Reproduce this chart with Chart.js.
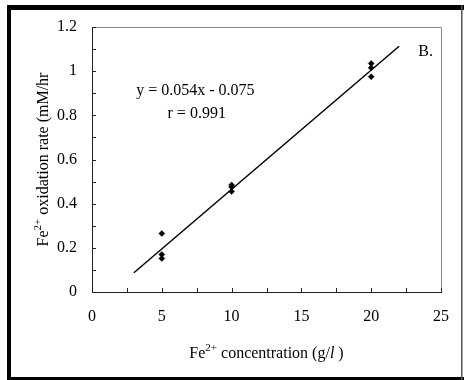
<!DOCTYPE html>
<html>
<head>
<meta charset="utf-8">
<script src="https://cdn.jsdelivr.net/npm/chart.js@4/dist/chart.umd.min.js"></script>
<style>
  html, body { margin: 0; padding: 0; background: #fff; }
  #wrap { width: 464px; height: 380px; position: relative; }
</style>
</head>
<body>
<div id="wrap"><canvas id="chart"></canvas></div>
<script>
    const concX = [5, 5, 5, 10, 10, 10, 20, 20, 20];
    const rateY = [0.265, 0.17, 0.152, 0.485, 0.475, 0.455, 1.035, 1.015, 0.975];

    // Regression line end points: y = 0.054x - 0.075
    const fitX = [3, 22];
    const fitY = [0.087, 1.113];

    // Tick positions (inward tick marks)
    const xTickMarks = [0, 2.5, 5, 7.5, 10, 12.5, 15, 17.5, 20, 22.5, 25];
    const yTickMarks = [0, 0.1, 0.2, 0.3, 0.4, 0.5, 0.6, 0.7, 0.8, 0.9, 1, 1.1, 1.2];

    const fitLabel = 'y = 0.054x - 0.075';
    const rLabel = 'r = 0.991';
    const panelLabel = 'B.';

    const FONT = '"Liberation Serif", "Times New Roman", serif';

    // draw a run of text pieces (with superscripts / italics) centred on (cx, cy)
    function drawRich(ctx, parts, cx, cy, rotate) {
        ctx.save();
        ctx.translate(cx, cy);
        if (rotate) ctx.rotate(-Math.PI / 2);
        let total = 0;
        parts.forEach(p => {
            ctx.font = (p.italic ? 'italic ' : '') + (p.sup ? '11px ' : '16px ') + FONT;
            p.w = ctx.measureText(p.t).width;
            total += p.w;
        });
        let x = -total / 2;
        ctx.fillStyle = '#000';
        ctx.textBaseline = 'alphabetic';
        ctx.textAlign = 'left';
        parts.forEach(p => {
            ctx.font = (p.italic ? 'italic ' : '') + (p.sup ? '11px ' : '16px ') + FONT;
            ctx.fillText(p.t, x, p.sup ? -1 : 5.5);
            x += p.w;
        });
        ctx.restore();
    }

    const decorPlugin = {
        id: 'decor',
        beforeDraw(chart) {
            const ctx = chart.ctx;
            ctx.save();
            ctx.fillStyle = '#fff';
            ctx.fillRect(0, 0, chart.width, chart.height);
            ctx.restore();
        },
        afterDraw(chart) {
            const ctx = chart.ctx;
            const a = chart.chartArea;
            const xs = chart.scales.x;
            const ys = chart.scales.y;
            ctx.save();

            // outer frame
            ctx.fillStyle = '#000';
            ctx.fillRect(7, 5, 457, 5);
            ctx.fillRect(7, 5, 4, 375);
            ctx.fillRect(7, 377, 457, 3);
            ctx.fillStyle = '#555';
            ctx.fillRect(461, 5, 1.5, 375);

            // plot box: top/right grey, axes dark
            ctx.lineWidth = 1;
            ctx.strokeStyle = '#888';
            ctx.beginPath();
            ctx.moveTo(a.left, a.top + 0.5);
            ctx.lineTo(a.right + 0.5, a.top + 0.5);
            ctx.lineTo(a.right + 0.5, a.bottom);
            ctx.stroke();
            ctx.strokeStyle = '#222';
            ctx.beginPath();
            ctx.moveTo(a.left + 0.5, a.top);
            ctx.lineTo(a.left + 0.5, a.bottom + 0.5);
            ctx.lineTo(a.right + 1, a.bottom + 0.5);
            ctx.stroke();

            // inward tick marks
            ctx.beginPath();
            xTickMarks.forEach(v => {
                const px = Math.round(xs.getPixelForValue(v)) + 0.5;
                ctx.moveTo(px, a.bottom);
                ctx.lineTo(px, a.bottom - 4);
            });
            yTickMarks.forEach(v => {
                const py = Math.round(ys.getPixelForValue(v)) + 0.5;
                ctx.moveTo(a.left, py);
                ctx.lineTo(a.left + 4, py);
            });
            ctx.stroke();

            // annotations
            ctx.fillStyle = '#000';
            ctx.font = '16px ' + FONT;
            ctx.textAlign = 'center';
            ctx.textBaseline = 'middle';
            ctx.fillText(fitLabel, xs.getPixelForValue(7.4), ys.getPixelForValue(0.912));
            ctx.fillText(rLabel, xs.getPixelForValue(7.5), ys.getPixelForValue(0.806));
            ctx.fillText(panelLabel, xs.getPixelForValue(23.9), ys.getPixelForValue(1.088));

            // axis titles
            drawRich(ctx, [
                { t: 'Fe' }, { t: '2+', sup: true }, { t: ' concentration (g/' },
                { t: 'l', italic: true }, { t: ' )' }
            ], (a.left + a.right) / 2, 352, false);
            drawRich(ctx, [
                { t: 'Fe' }, { t: '2+', sup: true }, { t: ' oxidation rate (mM/hr' }
            ], 42, (a.top + a.bottom) / 2, true);

            ctx.restore();
        }
    };

    const points = concX.map((x, i) => ({ x: x, y: rateY[i] }));
    const fitLine = fitX.map((x, i) => ({ x: x, y: fitY[i] }));

    new Chart(document.getElementById('chart'), {
        type: 'scatter',
        data: {
            datasets: [{
                data: fitLine,
                showLine: true,
                borderColor: '#000',
                borderWidth: 1.5,
                pointRadius: 0,
                fill: false
            }, {
                data: points,
                pointStyle: 'rectRot',
                pointRadius: 3,
                backgroundColor: '#000',
                borderColor: '#000',
                borderWidth: 0.5
            }]
        },
        options: {
            responsive: true,
            maintainAspectRatio: false,
            animation: false,
            layout: { padding: { left: 0, top: 27, right: 18, bottom: 0 } },
            scales: {
                x: {
                    type: 'linear',
                    min: 0,
                    max: 25,
                    afterFit: s => { s.height = 88; },
                    ticks: { stepSize: 5, color: '#000', padding: 15, font: { family: FONT, size: 16 } },
                    grid: { display: false, drawTicks: false },
                    border: { display: false }
                },
                y: {
                    min: 0,
                    max: 1.2,
                    afterFit: s => { s.width = 92; },
                    ticks: {
                        stepSize: 0.2,
                        color: '#000',
                        padding: 15,
                        font: { family: FONT, size: 16 },
                        callback: v => String(+v.toFixed(1))
                    },
                    grid: { display: false, drawTicks: false },
                    border: { display: false }
                }
            },
            plugins: {
                legend: { display: false },
                tooltip: { enabled: false }
            }
        },
        plugins: [decorPlugin]
    });
</script>
</body>
</html>
